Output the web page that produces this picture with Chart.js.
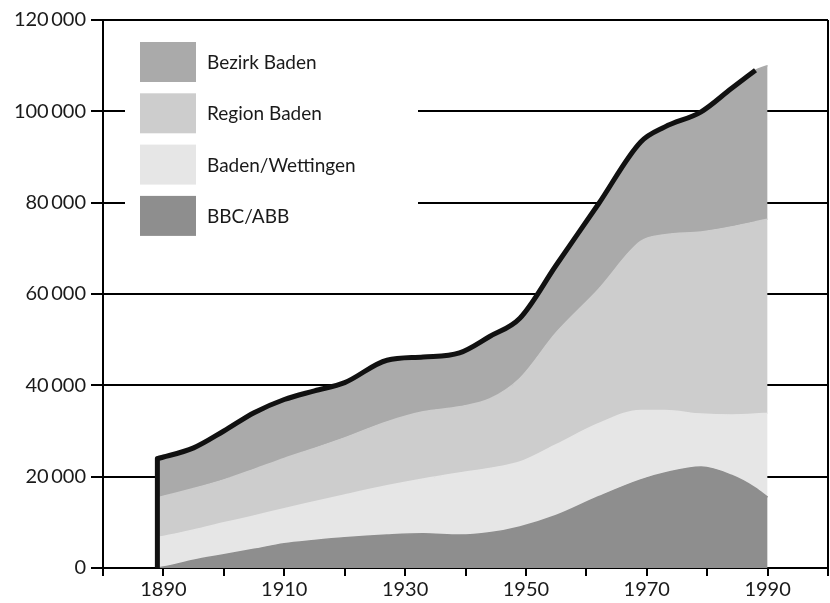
<!doctype html>
<html>
<head>
    <meta charset="UTF-8">
    <title>Bevölkerung Baden</title>
    <script src="https://cdn.jsdelivr.net/npm/chart.js@4/dist/chart.umd.min.js"></script>
    <style>
        html, body { margin: 0; padding: 0; background: #fff; }
        #holder { width: 830px; height: 603px; }
    </style>
</head>
<body>
<div id="holder">
    <canvas id="chart-area" width="830" height="603"></canvas>
</div>
<script>
    // Jahre (Stuetzstellen) und Werte je Schicht, von unten nach oben
    var years    = [1889, 1890, 1895, 1900, 1905, 1910, 1915, 1920, 1927, 1933, 1939, 1944, 1949, 1955, 1962, 1969, 1973, 1979, 1984, 1988, 1990];
    var bbcAbb   = [0, 200, 1700, 2900, 4100, 5300, 6000, 6600, 7200, 7500, 7200, 7700, 9000, 11500, 15600, 19300, 20800, 22100, 20300, 17500, 15500];
    var badenWet = [6700, 6700, 6600, 7000, 7300, 7700, 8500, 9400, 10800, 12000, 13600, 14100, 14200, 15500, 16000, 15200, 13700, 11600, 13200, 16200, 18400];
    var regionBd = [8700, 8800, 9100, 9400, 10200, 11000, 11700, 12500, 14000, 14700, 14500, 15200, 18300, 24500, 29400, 37000, 38500, 39900, 41200, 42100, 42500];
    var bezirkBd = [8600, 8600, 8900, 10700, 12400, 12900, 12600, 12100, 13500, 12000, 11800, 13700, 13200, 14800, 18700, 21800, 23600, 26300, 30300, 33200, 33600];
    var lineEnd  = 1988; // Summenlinie endet hier

    var layerNames  = ['BBC/ABB', 'Baden/Wettingen', 'Region Baden', 'Bezirk Baden'];
    var layerColors = ['#8e8e8e', '#e6e6e6', '#cdcdcd', '#aaaaaa'];
    var layerValues = [bbcAbb, badenWet, regionBd, bezirkBd];

    var FONT = 'Lato, "Open Sans", sans-serif';

    function pts(arr) {
        return years.map(function (yr, i) { return {x: yr, y: arr[i]}; });
    }

    // Summenlinie aus den Schichten, mit senkrechtem Anfang
    var totalPts = [{x: years[0], y: 0}];
    years.forEach(function (yr, i) {
        if (yr <= lineEnd) {
            totalPts.push({x: yr, y: bbcAbb[i] + badenWet[i] + regionBd[i] + bezirkBd[i]});
        }
    });

    var datasets = [];
    layerNames.forEach(function (name, k) {
        datasets.push({
            label: name,
            data: pts(layerValues[k]),
            stack: 'layers',
            order: 1,
            backgroundColor: layerColors[k],
            borderColor: layerColors[k],
            borderWidth: 1.5,   // deckt die Naht zwischen den Flaechen
            pointRadius: 0,
            fill: k === 0 ? 'origin' : '-1',
            cubicInterpolationMode: 'monotone'
        });
    });
    datasets.push({
        label: 'Total',
        data: totalPts,
        stack: 'total',
        order: 0,
        borderColor: '#111',
        borderWidth: 5,
        borderJoinStyle: 'round',
        pointRadius: 0,
        fill: false,
        cubicInterpolationMode: 'monotone'
    });

    // Legende als weisser Kasten im Diagramm
    var legendBox = {
        id: 'legendBox',
        afterDatasetsDraw: function (chart) {
            var ctx = chart.ctx, ca = chart.chartArea;
            ctx.save();
            ctx.fillStyle = '#fff';
            ctx.fillRect(ca.left + 22, ca.top + 9, 293, 218);
            ctx.font = '19px ' + FONT;
            ctx.textBaseline = 'middle';
            for (var k = layerNames.length - 1, row = 0; k >= 0; k--, row++) {
                var bx = ca.left + 37, by = ca.top + 22 + row * 51.3;
                ctx.fillStyle = layerColors[k];
                ctx.fillRect(bx, by, 56, 40);
                ctx.fillStyle = '#1a1a1a';
                ctx.fillText(layerNames[k], bx + 67, by + 21);
            }
            ctx.restore();
        }
    };

    var config = {
        type: 'line',
        data: {datasets: datasets},
        options: {
            responsive: false,
            animation: false,
            layout: {padding: {top: 20, right: 1, left: 0, bottom: 0}},
            plugins: {
                legend: {display: false},
                tooltip: {enabled: false}
            },
            scales: {
                x: {
                    type: 'linear',
                    min: 1880,
                    max: 2000,
                    afterFit: function (s) { s.height = 35; },
                    border: {display: true, color: '#000', width: 2},
                    grid: {
                        drawOnChartArea: true,
                        color: function (c) { return c.tick && c.tick.value === 2000 ? '#000' : 'rgba(0,0,0,0)'; },
                        tickColor: '#000',
                        lineWidth: 2,
                        tickLength: 8
                    },
                    ticks: {
                        stepSize: 10,
                        autoSkip: false,
                        maxRotation: 0,
                        padding: 2,
                        color: '#1a1a1a',
                        font: {family: FONT, size: 20},
                        callback: function (v) { return (v - 1890) % 20 === 0 ? String(v) : ''; }
                    }
                },
                y: {
                    stacked: true,
                    min: 0,
                    max: 120000,
                    afterFit: function (s) { s.width = 103; },
                    border: {display: true, color: '#000', width: 2},
                    grid: {
                        color: '#000',
                        lineWidth: 2,
                        tickLength: 12,
                        drawTicks: true
                    },
                    ticks: {
                        stepSize: 20000,
                        padding: 5,
                        color: '#1a1a1a',
                        font: {family: FONT, size: 20},
                        callback: function (v) { return v === 0 ? '0' : (v / 1000) + '\u2009000'; }
                    }
                }
            }
        },
        plugins: [legendBox]
    };

    var ctx = document.getElementById('chart-area').getContext('2d');
    window.myChart = new Chart(ctx, config);
</script>
</body>
</html>
